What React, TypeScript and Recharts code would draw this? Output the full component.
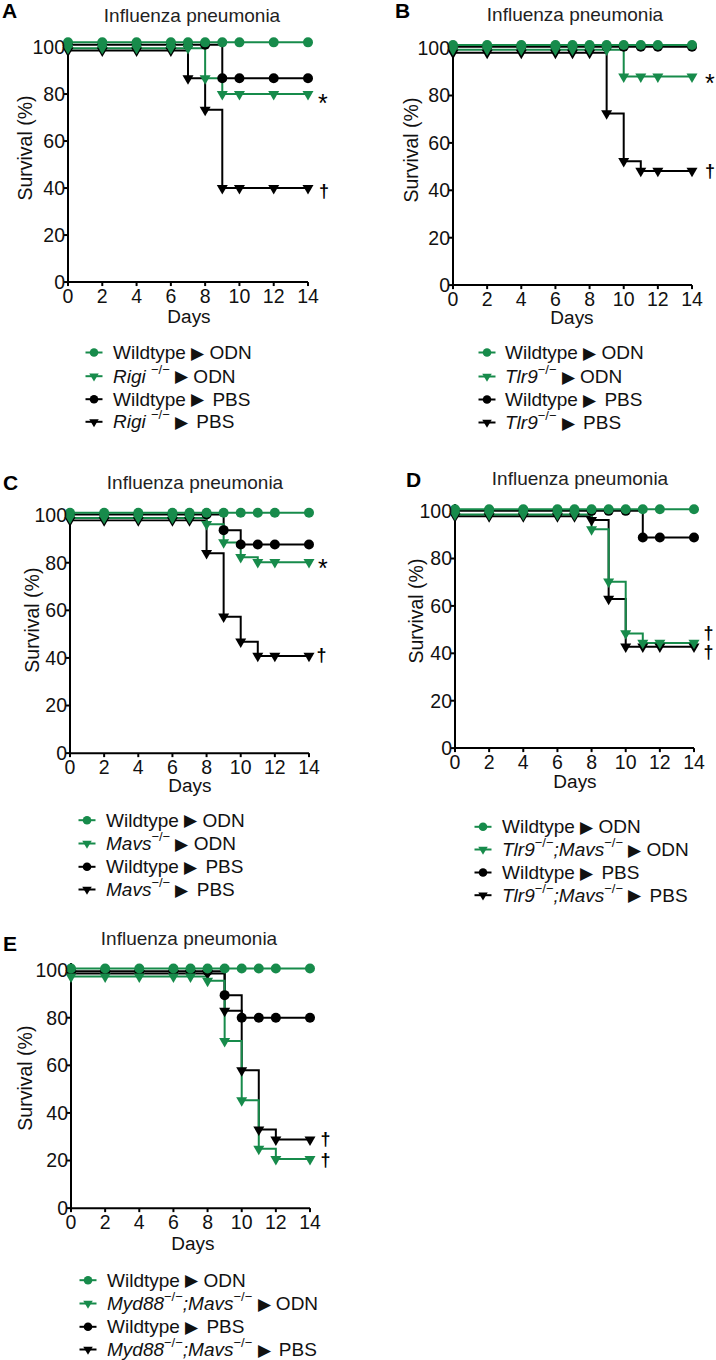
import React from 'react';
import { LineChart, Line, XAxis, YAxis, ReferenceDot, Label } from 'recharts';

type Pt = [number, number];

// ---------- data (day, survival %) ----------
const X_TICKS = [0, 2, 4, 6, 8, 10, 12, 14];
const Y_TICKS = [0, 20, 40, 60, 80, 100];
const Y_MAX = 103;

// Panel A – Rigi
const aWildtypeOdn: Pt[] = [[0, 102], [2, 102], [4, 102], [6, 102], [7, 102], [8, 102], [9, 102], [10, 102], [12, 102], [14, 102]];
const aRigiOdn: Pt[] = [[0, 99.5], [2, 99.5], [4, 99.5], [6, 99.5], [7, 99.5], [8, 86.7], [9, 80], [10, 80], [12, 80], [14, 80]];
const aWildtypePbs: Pt[] = [[0, 101], [2, 101], [4, 101], [6, 101], [7, 101], [8, 101], [9, 86.7], [10, 86.7], [12, 86.7], [14, 86.7]];
const aRigiPbs: Pt[] = [[0, 98.5], [2, 98.5], [4, 98.5], [6, 98.5], [7, 86.7], [8, 73.3], [9, 40], [10, 40], [12, 40], [14, 40]];

// Panel B – Tlr9
const bWildtypeOdn: Pt[] = [[0, 101.3], [2, 101.3], [4, 101.3], [6, 101.3], [7, 101.3], [8, 101.3], [9, 101.3], [10, 101.3], [11, 101.3], [12, 101.3], [14, 101.3]];
const bTlr9Odn: Pt[] = [[0, 99.3], [2, 99.3], [4, 99.3], [6, 99.3], [7, 99.3], [8, 99.3], [9, 99.3], [10, 88], [11, 88], [12, 88], [14, 88]];
const bWildtypePbs: Pt[] = [[0, 100.6], [2, 100.6], [4, 100.6], [6, 100.6], [7, 100.6], [8, 100.6], [9, 100.6], [10, 100.6], [11, 100.6], [12, 100.6], [14, 100.6]];
const bTlr9Pbs: Pt[] = [[0, 98], [2, 98], [4, 98], [6, 98], [7, 98], [8, 98], [9, 72.4], [10, 52.3], [11, 48.2], [12, 48.2], [14, 48.2]];

// Panel C – Mavs
const cWildtypeOdn: Pt[] = [[0, 101], [2, 101], [4, 101], [6, 101], [7, 101], [8, 101], [9, 101], [10, 101], [11, 101], [12, 101], [14, 101]];
const cMavsOdn: Pt[] = [[0, 98.8], [2, 98.8], [4, 98.8], [6, 98.8], [7, 98.8], [8, 96.2], [9, 88.5], [10, 82.3], [11, 80.2], [12, 80.2], [14, 80.2]];
const cWildtypePbs: Pt[] = [[0, 100.3], [2, 100.3], [4, 100.3], [6, 100.3], [7, 100.3], [8, 100.3], [9, 93.7], [10, 87.7], [11, 87.7], [12, 87.7], [14, 87.7]];
const cMavsPbs: Pt[] = [[0, 97.8], [2, 97.8], [4, 97.8], [6, 97.8], [7, 97.8], [8, 84], [9, 57.3], [10, 46.8], [11, 40.8], [12, 40.8], [14, 40.8]];

// Panel D – Tlr9;Mavs
const dWildtypeOdn: Pt[] = [[0, 100.8], [2, 100.8], [4, 100.8], [6, 100.8], [7, 100.8], [8, 100.8], [9, 100.8], [10, 100.8], [11, 100.8], [12, 100.8], [14, 100.8]];
const dTlr9MavsOdn: Pt[] = [[0, 98.6], [2, 98.6], [4, 98.6], [6, 98.6], [7, 98.6], [8, 92.3], [9, 70.2], [10, 48.4], [11, 44.4], [12, 44.4], [14, 44.4]];
const dWildtypePbs: Pt[] = [[0, 100.1], [2, 100.1], [4, 100.1], [6, 100.1], [7, 100.1], [8, 100.1], [9, 100.1], [10, 100.1], [11, 88.9], [12, 88.9], [14, 88.9]];
const dTlr9MavsPbs: Pt[] = [[0, 97.8], [2, 97.8], [4, 97.8], [6, 97.8], [7, 97.8], [8, 96.2], [9, 62.9], [10, 42.8], [11, 42.8], [12, 42.8], [14, 42.8]];

// Panel E – Myd88;Mavs
const eWildtypeOdn: Pt[] = [[0, 100.7], [2, 100.7], [4, 100.7], [6, 100.7], [7, 100.7], [8, 100.7], [9, 100.7], [10, 100.7], [11, 100.7], [12, 100.7], [14, 100.7]];
const eMyd88MavsOdn: Pt[] = [[0, 97.3], [2, 97.3], [4, 97.3], [6, 97.3], [7, 97.3], [8, 95.5], [9, 70.2], [10, 45.3], [11, 24.9], [12, 20.6], [14, 20.6]];
const eWildtypePbs: Pt[] = [[0, 99.5], [2, 99.5], [4, 99.5], [6, 99.5], [7, 99.5], [8, 99.5], [9, 89.5], [10, 80], [11, 80], [12, 80], [14, 80]];
const eMyd88MavsPbs: Pt[] = [[0, 98.6], [2, 98.6], [4, 98.6], [6, 98.6], [7, 98.6], [8, 98.6], [9, 82.9], [10, 57.9], [11, 33], [12, 28.8], [14, 28.8]];

// ---------- styles ----------
const GREEN = '#178b4b';
const BLACK = '#000000';
const TEXT = '#111111';
const FONT = '"Liberation Sans", Arial, Helvetica, sans-serif';

type Shape = 'circle' | 'triangle';
type Series = { name: string; points: Pt[]; color: string; shape: Shape };
type Part = { t: string; i?: boolean; sup?: boolean; arrow?: boolean; gap?: number };
type Annot = { sym: string; value: number; dx: number; dy: number };

const tri = (cx: number, cy: number, w: number, h: number) =>
  `M${cx - w / 2},${cy - h / 3}L${cx + w / 2},${cy - h / 3}L${cx},${cy + (2 * h) / 3}Z`;

const makeDot = (color: string, shape: Shape) => (props: any) => {
  const { cx, cy, index } = props;
  if (cx == null || cy == null) return <g key={`e-${index}`} />;
  if (shape === 'circle') return <circle key={`c-${index}`} cx={cx} cy={cy} r={5} fill={color} />;
  return <path key={`t-${index}`} d={tri(cx, cy, 11, 9.5)} fill={color} />;
};

type PanelCfg = {
  letter: string; letterPos: [number, number];
  titlePos: [number, number];
  x0: number; x14: number; y0: number; y100: number;
  ylab: [number, number]; days: [number, number];
  series: Series[]; annots: Annot[];
  legend: { markerX: number; textX: number; baselines: number[]; items: { color: string; shape: Shape; parts: Part[] }[] };
};

const sup = (t: string): Part => ({ t, sup: true });
const it = (t: string): Part => ({ t, i: true });
const tx = (t: string, gap?: number): Part => ({ t, gap });
const ARROW: Part = { t: '\u25B6', arrow: true };

const legendItems = (gene: Part[]) => [
  { color: GREEN, shape: 'circle' as Shape, parts: [tx('Wildtype '), ARROW, tx(' ODN')] },
  { color: GREEN, shape: 'triangle' as Shape, parts: [...gene, tx(' '), ARROW, tx(' ODN')] },
  { color: BLACK, shape: 'circle' as Shape, parts: [tx('Wildtype '), ARROW, tx(' PBS', 3)] },
  { color: BLACK, shape: 'triangle' as Shape, parts: [...gene, tx(' '), ARROW, tx(' PBS', 3)] },
];

const mk = (wo: Pt[], ko: Pt[], wp: Pt[], kp: Pt[]): Series[] => [
  { name: 'koPbs', points: kp, color: BLACK, shape: 'triangle' },
  { name: 'wtPbs', points: wp, color: BLACK, shape: 'circle' },
  { name: 'koOdn', points: ko, color: GREEN, shape: 'triangle' },
  { name: 'wtOdn', points: wo, color: GREEN, shape: 'circle' },
];

const PANELS: PanelCfg[] = [
  {
    letter: 'A', letterPos: [2, 18], titlePos: [192, 21.5],
    x0: 68, x14: 308, y0: 282, y100: 47, ylab: [25, 148], days: [189, 323],
    series: mk(aWildtypeOdn, aRigiOdn, aWildtypePbs, aRigiPbs),
    annots: [{ sym: '*', value: 80, dx: 10, dy: 3.5 }, { sym: '\u2020', value: 40, dx: 11, dy: 4 }],
    legend: { markerX: 94, textX: 113, baselines: [359, 382.7, 405.7, 428.3], items: legendItems([it('Rigi'), tx(' '), sup('\u2212/\u2212')]) },
  },
  {
    letter: 'B', letterPos: [395, 18], titlePos: [575, 21],
    x0: 453, x14: 692, y0: 285, y100: 48, ylab: [411, 150], days: [572, 324],
    series: mk(bWildtypeOdn, bTlr9Odn, bWildtypePbs, bTlr9Pbs),
    annots: [{ sym: '*', value: 88, dx: 13, dy: 1.3 }, { sym: '\u2020', value: 48.2, dx: 13, dy: 0.5 }],
    legend: { markerX: 487, textX: 505, baselines: [359, 383, 406, 429], items: legendItems([it('Tlr9'), sup('\u2212/\u2212')]) },
  },
  {
    letter: 'C', letterPos: [3, 490], titlePos: [195, 489],
    x0: 70, x14: 309, y0: 753, y100: 515, ylab: [32, 620], days: [190, 792],
    series: mk(cWildtypeOdn, cMavsOdn, cWildtypePbs, cMavsPbs),
    annots: [{ sym: '*', value: 80.2, dx: 9, dy: 0 }, { sym: '\u2020', value: 40.8, dx: 7.5, dy: 0 }],
    legend: { markerX: 87, textX: 106, baselines: [826.7, 850, 873.3, 896], items: legendItems([it('Mavs'), sup('\u2212/\u2212')]) },
  },
  {
    letter: 'D', letterPos: [406, 487], titlePos: [580, 485],
    x0: 455, x14: 694, y0: 748, y100: 511, ylab: [416, 611], days: [575, 788],
    series: mk(dWildtypeOdn, dTlr9MavsOdn, dWildtypePbs, dTlr9MavsPbs),
    annots: [{ sym: '\u2020', value: 44.4, dx: 9.5, dy: -9.5 }, { sym: '\u2020', value: 42.8, dx: 9.5, dy: 6.4 }],
    legend: { markerX: 483, textX: 502, baselines: [833.3, 856, 879, 901.7], items: legendItems([it('Tlr9'), sup('\u2212/\u2212'), it(';Mavs'), sup('\u2212/\u2212')]) },
  },
  {
    letter: 'E', letterPos: [3, 951], titlePos: [189, 945],
    x0: 71, x14: 310, y0: 1208, y100: 970, ylab: [25, 1078], days: [193, 1250],
    series: mk(eWildtypeOdn, eMyd88MavsOdn, eWildtypePbs, eMyd88MavsPbs),
    annots: [{ sym: '\u2020', value: 28.8, dx: 10.5, dy: 0.5 }, { sym: '\u2020', value: 20.6, dx: 10.5, dy: 1.5 }],
    legend: { markerX: 88, textX: 107, baselines: [1286.7, 1310, 1333.3, 1356], items: legendItems([it('Myd88'), sup('\u2212/\u2212'), it(';Mavs'), sup('\u2212/\u2212')]) },
  },
];

const TICK_FS = 19.5;

function Chart({ cfg }: { cfg: PanelCfg }) {
  const unit = (cfg.y0 - cfg.y100) / 100;
  const plotTop = cfg.y0 - Y_MAX * unit;
  const chartLeft = cfg.x0 - 68;
  const chartTop = plotTop - 8;
  const width = cfg.x14 - chartLeft + 45;
  const height = cfg.y0 - chartTop + 55;
  const ylx = cfg.ylab[0] - chartLeft;
  const yly = cfg.ylab[1] - chartTop;
  const dx = cfg.days[0] - chartLeft;
  const dy = cfg.days[1] - chartTop;
  const axisStyle = { stroke: '#000', strokeWidth: 2 };
  return (
    <div style={{ position: 'absolute', left: chartLeft, top: chartTop }}>
      <LineChart width={width} height={height} margin={{ top: 8, right: 45, bottom: 5, left: 8 }}>
        <XAxis
          type="number" dataKey="day" domain={[0, 14]} ticks={X_TICKS} interval={0}
          height={50} tickSize={4} tickMargin={3}
          axisLine={axisStyle} tickLine={axisStyle}
          tick={{ fontSize: TICK_FS, fill: TEXT }}
        >
          <Label content={() => (
            <text x={dx} y={dy} textAnchor="middle" fontSize={19} fill={TEXT}>Days</text>
          )} />
        </XAxis>
        <YAxis
          type="number" domain={[0, Y_MAX]} ticks={Y_TICKS} interval={0}
          width={60} tickSize={4} tickMargin={-1}
          axisLine={axisStyle} tickLine={axisStyle}
          tick={{ fontSize: TICK_FS, fill: TEXT }}
        >
          <Label content={() => (
            <text x={ylx} y={yly} dy="0.35em" textAnchor="middle" fontSize={19.5} fill={TEXT}
              transform={`rotate(-90, ${ylx}, ${yly})`}>Survival (%)</text>
          )} />
        </YAxis>
        {cfg.series.map((s) => (
          <Line
            key={s.name}
            data={s.points.map(([day, pct]) => ({ day, pct }))}
            dataKey="pct"
            type="stepAfter"
            stroke={s.color}
            strokeWidth={2}
            dot={makeDot(s.color, s.shape)}
            activeDot={false}
            isAnimationActive={false}
          />
        ))}
        {cfg.annots.map((a, i) => (
          <ReferenceDot
            key={`an-${i}`}
            x={14}
            y={a.value}
            r={0}
            fill="none"
            stroke="none"
            ifOverflow="visible"
            label={{
              content: (p: any) => {
                const vb = p && p.viewBox;
                if (!vb) return null;
                const cx = vb.x + (vb.width || 0) / 2;
                const cy = vb.y + (vb.height || 0) / 2;
                const isStar = a.sym === '*';
                const fs = isStar ? 25 : 18;
                const base = isStar ? 0.57 * fs : 0.29 * fs;
                return (
                  <text x={cx + a.dx} y={cy + a.dy + base} fontSize={fs} fill="#000"
                    fontWeight={isStar ? 'normal' : 'bold'}
                    style={{ fill: '#000', fontFamily: FONT }}>{a.sym}</text>
                );
              },
            }}
          />
        ))}
      </LineChart>
    </div>
  );
}

function LegendRow({ x, tX, base, color, shape, parts }: { x: number; tX: number; base: number; color: string; shape: Shape; parts: Part[] }) {
  const my = base - 6.5;
  let cur = 0;
  const spans = parts.map((p, i) => {
    const target = p.sup ? -9 : p.arrow ? -0.5 : 0;
    const d = target - cur;
    cur = target;
    return (
      <tspan key={i} dy={d || undefined} dx={p.gap || undefined} fontStyle={p.i ? 'italic' : undefined}
        fontSize={p.sup ? 13 : p.arrow ? 17 : undefined}>{p.t}</tspan>
    );
  });
  return (
    <g>
      <line x1={x - 8.5} x2={x + 8.5} y1={my} y2={my} stroke={color} strokeWidth={2} />
      {shape === 'circle'
        ? <circle cx={x} cy={my} r={4.3} fill={color} />
        : <path d={tri(x, my, 9.5, 8)} fill={color} />}
      <text x={tX} y={base} fontSize={19} fill={TEXT} style={{ whiteSpace: 'pre' }}>{spans}</text>
    </g>
  );
}

function Overlay() {
  return (
    <svg width={716} height={1360} style={{ position: 'absolute', left: 0, top: 0, pointerEvents: 'none' }}>
      {PANELS.map((p) => (
        <g key={p.letter}>
          <text x={p.letterPos[0]} y={p.letterPos[1]} fontSize={21} fontWeight="bold" fill="#000">{p.letter}</text>
          <text x={p.titlePos[0]} y={p.titlePos[1]} fontSize={19} textAnchor="middle" fill="#222">Influenza pneumonia</text>
          {p.legend.items.map((it2, i) => (
            <LegendRow key={i} x={p.legend.markerX} tX={p.legend.textX} base={p.legend.baselines[i]}
              color={it2.color} shape={it2.shape} parts={it2.parts} />
          ))}
        </g>
      ))}
    </svg>
  );
}

export default function App() {
  return (
    <div style={{ position: 'absolute', left: 0, top: 0, width: 716, height: 1360, background: '#fff', fontFamily: FONT, overflow: 'hidden' }}>
      {PANELS.map((p) => <Chart key={p.letter} cfg={p} />)}
      <Overlay />
    </div>
  );
}
